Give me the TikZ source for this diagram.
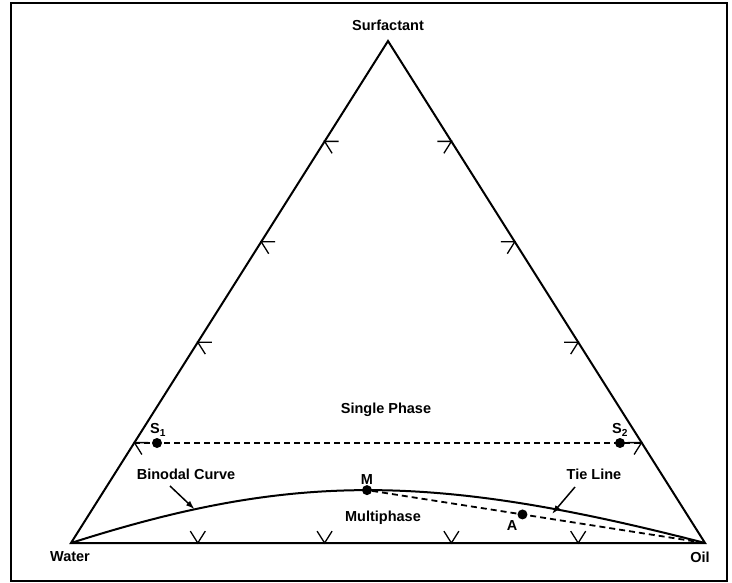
\documentclass[tikz,border=0pt]{standalone}
\usepackage{fontspec}
\setmainfont{Liberation Sans}
\usetikzlibrary{calc,arrows.meta}

\begin{document}
\begin{tikzpicture}[x=1pt, y=-1pt, font=\fontsize{14.5}{16}\selectfont\bfseries,
	side/.style={line width=2pt, line join=miter},
	tickmark/.style={line width=1.3pt},
	tie/.style={line width=1.8pt, dash pattern=on 6pt off 4pt},
	dot/.style={circle, fill=black, inner sep=0pt, minimum size=10pt},
	lbl/.style={inner sep=0pt},
	pointer/.style={line width=1.5pt, -{Latex[length=9pt,width=6pt]}}]
	% Paths, nodes and wires:
	\useasboundingbox (0,0) rectangle (732,583);
	\draw[line width=1.6pt] (11,3) rectangle (727,581);
	\coordinate (T) at (388,41);
	\coordinate (W) at (71,543);
	\coordinate (O) at (705,543);
	\draw[side] (W) -- (T) -- (O) -- cycle;
	\foreach \f in {0.2,0.4,0.6,0.8}{
		\draw[tickmark] ($(W)!\f!(T)$) +(14,0) -- +(0,0) -- +(7.5,11.9);
		\draw[tickmark] ($(O)!\f!(T)$) +(-14,0) -- +(0,0) -- +(-7.5,11.9);
		\draw[tickmark] ($(W)!\f!(O)$) +(-7.5,-11.9) -- +(0,0) -- +(7.5,-11.9);
	}
	\node[lbl] (surf) at (388,25) {Surfactant};
	\node[lbl] (water) at (70,557) {Water};
	\node[lbl] (oil) at (700,557) {Oil};
	\node[lbl] (single) at (386,410) {Single Phase};
	\node[lbl] (multi) at (383,518) {Multiphase};
	% single phase line
	\coordinate (L1) at ($(W)!0.2!(T)$);
	\coordinate (R1) at ($(O)!0.2!(T)$);
	\draw[tie] (L1) -- (R1);
	\node[dot] (S1) at (157,443) {};
	\node[dot] (S2) at (620,443) {};
	\node[lbl] (s1lbl) at (158,430) {S\textsubscript{1}};
	\node[lbl] (s2lbl) at (620,430) {S\textsubscript{2}};
	% binodal curve and tie line
	\coordinate (c1) at (290,473);
	\coordinate (c2) at (430,472);
	\draw[side] (W) .. controls (c1) and (c2) .. coordinate[pos=0.2] (b1) coordinate[pos=0.5] (Mc) (O);
	\node[dot] (M) at (Mc) {};
	\node[lbl, above=5pt] (mlbl) at (Mc) {M};
	\draw[tie] (M) -- (O);
	\node[dot] (A) at ($(M)!0.46!(O)$) {};
	\node[lbl] (albl) at (512,526) {A};
	\node[lbl] (binlbl) at (186,474) {Binodal Curve};
	\node[lbl] (tielbl) at (594,474) {Tie Line};
	\coordinate (bintail) at (170,486);
	\coordinate (tietail) at (575,487);
	\coordinate (tietip) at (552,514);
	\draw[pointer] (bintail) -- (b1);
	\draw[pointer] (tietail) -- (tietip);
\end{tikzpicture}
\end{document}
